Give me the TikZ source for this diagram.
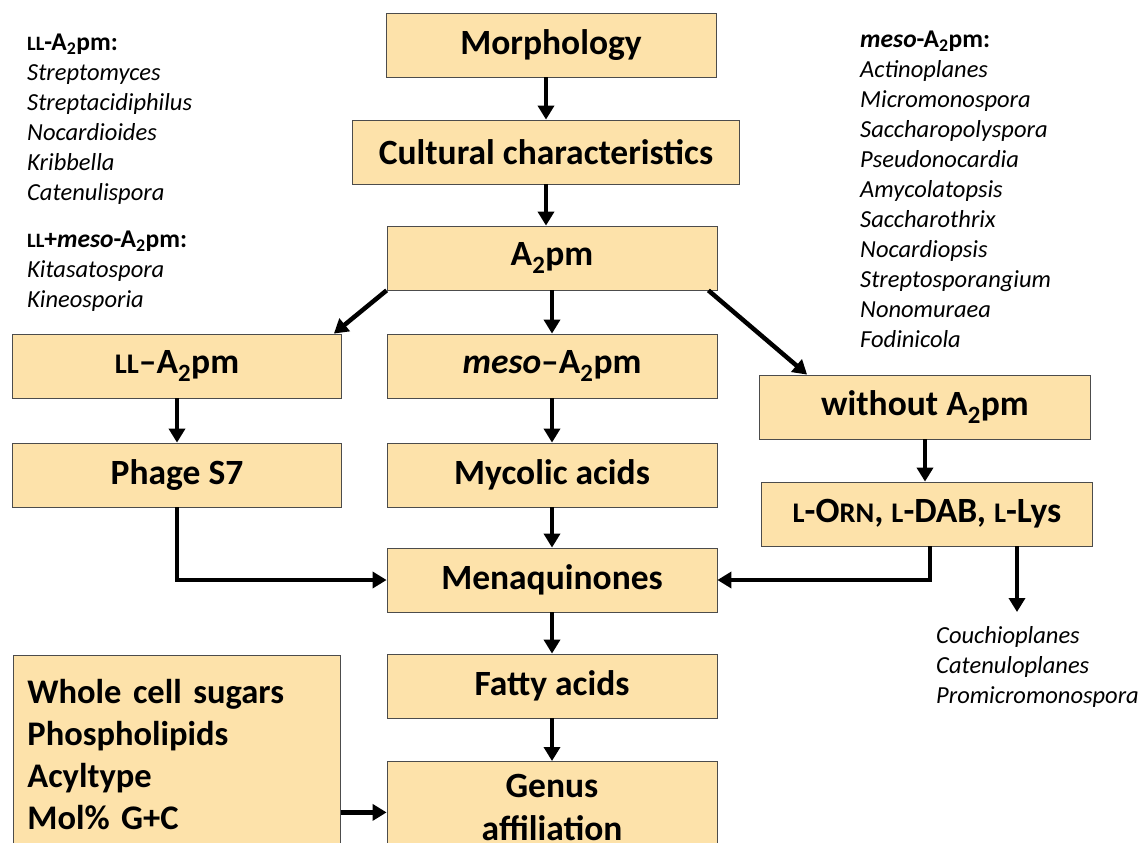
\documentclass[tikz,border=0pt]{standalone}
\usepackage{fontspec}
\setmainfont{Carlito}
\usetikzlibrary{arrows.meta, positioning}

\definecolor{boxfill}{RGB}{253,226,170}
\newcommand{\fsc}[1]{\scalebox{0.8}{#1}}
\newcommand{\Apm}{A\textsubscript{2}pm}
\newcommand{\listhead}[1]{{\upshape\bfseries\fontsize{25.5}{30}\selectfont #1}}

\begin{document}
\begin{tikzpicture}[x=1pt, y=-1pt,
  box/.style={draw=black!70, line width=0.8pt, fill=boxfill,
    minimum width=330pt, minimum height=64pt, inner sep=0pt,
    font=\bfseries\fontsize{35.5}{43}\selectfont},
  arr/.style={line width=4.5pt, -{Triangle[length=14pt, width=16pt]}},
  genera/.style={anchor=north west, align=left, inner sep=0pt,
    font=\itshape\fontsize{24.5}{30}\selectfont}]

  \useasboundingbox (0,0) rectangle (1143,843);
  \clip (0,0) rectangle (1143,843);

  % Main column
  \node[box] (morph) at (551,45) {Morphology};
  \node[box, minimum width=387pt] (cult) at (546,152) {Cultural characteristics};
  \node[box] (apm) at (552,258) {\Apm};
  \node[box] (meso) at (552,366) {\textit{meso}--\Apm};
  \node[box] (myco) at (552,475) {Mycolic acids};
  \node[box] (mena) at (552,580) {Menaquinones};
  \node[box] (fatty) at (552,686) {Fatty acids};
  \node[box, minimum height=92pt, anchor=north, align=center] (genus) at (552,761) {Genus\\affiliation};

  % Left column
  \node[box, minimum width=329pt] (ll) at (177,366) {\fsc{LL}--\Apm};
  \node[box, minimum width=329pt] (phage) at (177,475) {Phage S7};
  \node[box, anchor=north west, minimum width=327pt, minimum height=198pt,
    align=left, text width=299pt, inner xsep=14pt,
    font=\bfseries\fontsize{34.5}{42}\selectfont] (props) at (13,655)
    {Whole cell sugars\\Phospholipids\\Acyltype\\Mol\% G+C};

  % Right column
  \node[box, minimum width=331pt] (without) at (925,407) {without \Apm};
  \node[box, minimum width=331pt] (orn) at (927,514) {\fsc{L}-O\fsc{RN}, \fsc{L}-DAB, \fsc{L}-Lys};
  \coordinate (lysEnd) at (1017,612);

  % Genera lists
  \node[genera] (llList) at (27,34) {\listhead{\fsc{LL}-\Apm:}\\
    Streptomyces\\ Streptacidiphilus\\ Nocardioides\\ Kribbella\\ Catenulispora};
  \node[genera] (llMesoList) at (27,231) {\listhead{\fsc{LL}+\textit{meso}-\Apm:}\\
    Kitasatospora\\ Kineosporia};
  \node[genera] (mesoList) at (860,31) {\listhead{\textit{meso}-\Apm:}\\
    Actinoplanes\\ Micromonospora\\ Saccharopolyspora\\ Pseudonocardia\\
    Amycolatopsis\\ Saccharothrix\\ Nocardiopsis\\ Streptosporangium\\
    Nonomuraea\\ Fodinicola};
  \node[genera] (lysList) at (936,626) {Couchioplanes\\ Catenuloplanes\\ Promicromonospora};

  % Arrows
  \draw[arr] (cult.north |- morph.south) -- (cult.north);
  \draw[arr] (cult.south) -- (cult.south |- apm.north);
  \draw[arr] (apm.south) -- (meso.north);
  \draw[arr] (apm.south west) -- ([xshift=-8pt]ll.north east);
  \draw[arr] ([xshift=-9pt]apm.south east) -- ([xshift=48pt]without.north west);
  \draw[arr] (ll.south) -- (phage.north);
  \draw[arr] (meso.south) -- (myco.north);
  \draw[arr] (without.south) -- (without.south |- orn.north);
  \draw[arr] (phage.south) |- (mena.west);
  \draw[arr] (myco.south) -- (mena.north);
  \draw[arr] ([xshift=3pt]orn.south) |- (mena.east);
  \draw[arr] (orn.south -| lysEnd) -- (lysEnd);
  \draw[arr] (mena.south) -- (fatty.north);
  \draw[arr] (fatty.south) -- (genus.north);
  \draw[arr] ([yshift=-5pt]props.east |- genus.west) -- ([yshift=-5pt]genus.west);

\end{tikzpicture}
\end{document}
